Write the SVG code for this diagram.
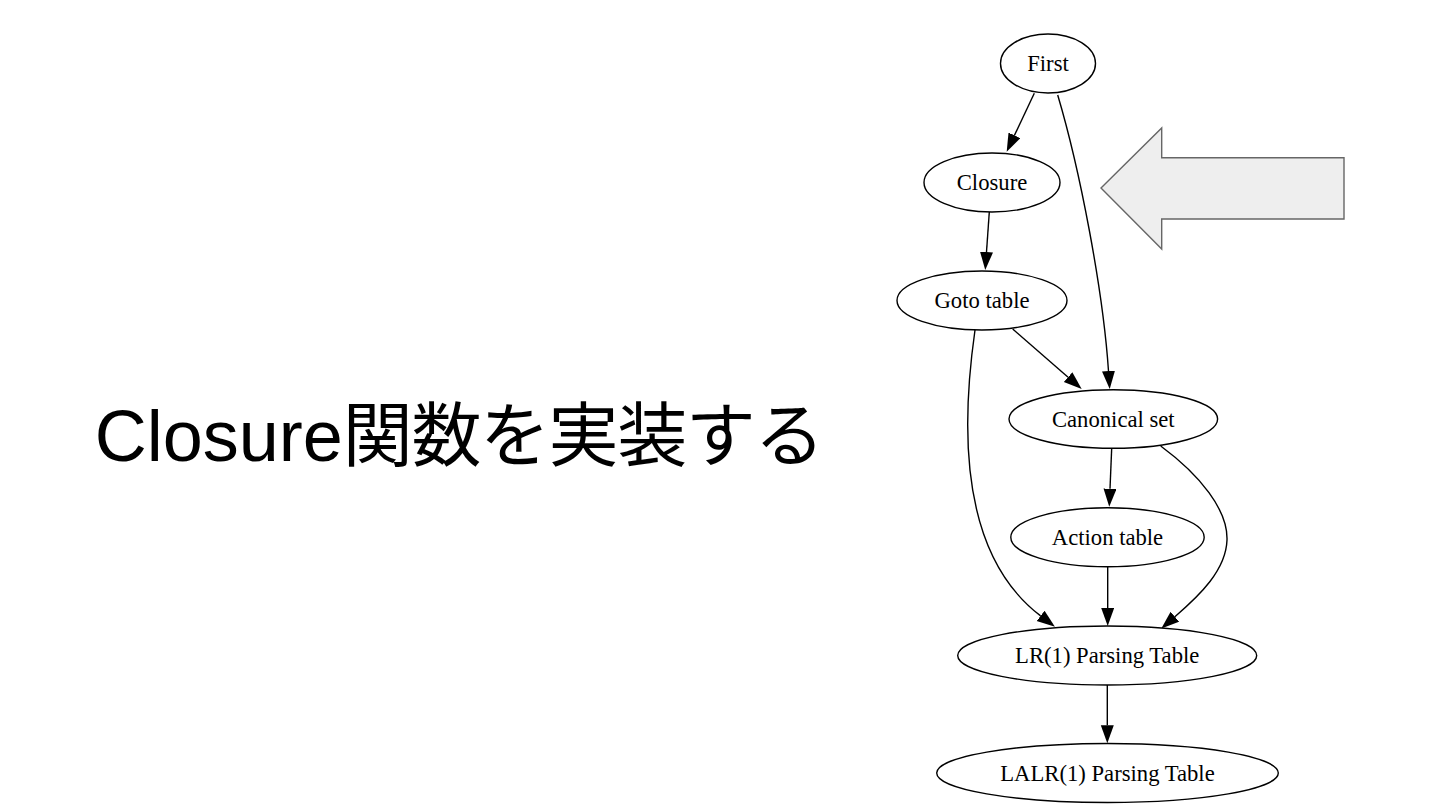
<svg xmlns="http://www.w3.org/2000/svg" width="1440" height="810" viewBox="0 0 1440 810">
<defs>
<style>
.node ellipse{fill:#ffffff;stroke:#000000;stroke-width:1.4}
.node text{font-family:"Liberation Serif","Times New Roman",serif;font-size:22.67px;fill:#000000;text-anchor:middle}
.edge{fill:none;stroke:#000000;stroke-width:1.4;marker-end:url(#ah)}
.title{font-family:"Liberation Sans",Arial,"Noto Sans CJK JP",sans-serif;font-size:72px;fill:#000000}
.cjk{font-family:"Noto Sans CJK JP","Noto Sans CJK SC",sans-serif;font-size:70px}
</style>
<marker id="ah" markerUnits="userSpaceOnUse" markerWidth="20" markerHeight="14" refX="0" refY="6.5" orient="auto">
<path d="M0,0 L18,6.5 L0,13 z" fill="#000000"/>
</marker>
</defs>
<rect width="1440" height="810" fill="#ffffff"/>
<text class="title" x="94.7" y="461">Closure<tspan class="cjk" letter-spacing="-1.4">関数を実装する</tspan></text>
<g id="bigarrow">
<path d="M1101,188 L1161.7,128 L1161.7,157.7 L1344,157.7 L1344,219 L1161.7,219 L1161.7,249 Z" fill="#eeeeee" stroke="#666666" stroke-width="1.4"/>
</g>
<g id="connectors">
<path class="edge" d="M1034.3,93.3 L1014.4,135.4"/>
<path class="edge" d="M989.3,212 L986.5,252"/>
<path class="edge" d="M1057.7,95 C1080,170 1103,290 1108.5,371"/>
<path class="edge" d="M1012.7,329 L1068.1,377.2"/>
<path class="edge" d="M975,330 C955,470 975,566 1040.6,615.9"/>
<path class="edge" d="M1111.7,448 L1110,488.7"/>
<path class="edge" d="M1160.7,446 C1200,475 1228,510 1227,540 C1226,570 1200,595 1174.9,616.7"/>
<path class="edge" d="M1107.7,566.7 L1107.7,608"/>
<path class="edge" d="M1107.3,685 L1107.3,725.3"/>
</g>
<g id="first" class="node"><ellipse cx="1048" cy="63.5" rx="47.5" ry="29.5"/><text x="1048" y="71">First</text></g>
<g id="closure" class="node"><ellipse cx="992" cy="182.5" rx="68" ry="29.5"/><text x="992" y="190">Closure</text></g>
<g id="goto" class="node"><ellipse cx="982" cy="300.5" rx="85" ry="29.5"/><text x="982" y="308">Goto table</text></g>
<g id="canonical" class="node"><ellipse cx="1113.3" cy="419" rx="104.3" ry="29.3"/><text x="1113.3" y="426.5">Canonical set</text></g>
<g id="action" class="node"><ellipse cx="1107.5" cy="537.2" rx="96.7" ry="29.5"/><text x="1107.5" y="544.7">Action table</text></g>
<g id="lr1" class="node"><ellipse cx="1107.2" cy="655.5" rx="149.5" ry="29.5"/><text x="1107.2" y="663">LR(1) Parsing Table</text></g>
<g id="lalr1" class="node"><ellipse cx="1107.5" cy="773" rx="170.8" ry="29.5"/><text x="1107.5" y="780.5">LALR(1) Parsing Table</text></g>
</svg>
